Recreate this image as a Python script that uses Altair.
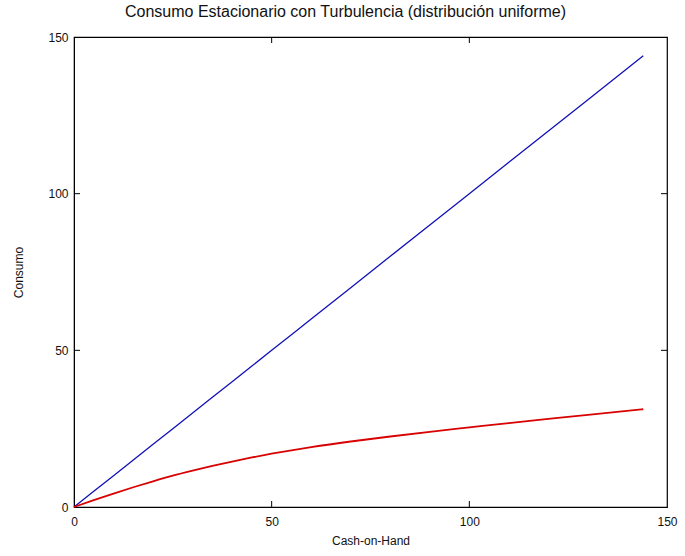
import altair as alt
import pandas as pd

# Cash-on-hand grid and the two consumption rules
cash = [0, 5, 10, 15, 20, 25, 30, 35, 40, 45, 50, 55, 60, 70, 80, 90, 100, 110, 120, 130, 144]
consumo_cierto = [0, 5, 10, 15, 20, 25, 30, 35, 40, 45, 50, 55, 60, 70, 80, 90, 100, 110, 120, 130, 144]
consumo_turb = [0, 2.2, 4.3, 6.3, 8.2, 10.0, 11.6, 13.1, 14.5, 15.8, 17.0, 18.1, 19.1, 20.9,
                22.5, 24.0, 25.4, 26.8, 28.1, 29.4, 31.2]
tick_vals = [0, 50, 100, 150]

W, H = 593, 470
FONT = "Liberation Sans"

df = pd.DataFrame({"cash": cash, "c45": consumo_cierto, "cturb": consumo_turb})
ticks = pd.DataFrame({"t": tick_vals[1:-1]})

xs = alt.Scale(domain=[0, 150], nice=False, zero=False)
ys = alt.Scale(domain=[0, 150], nice=False, zero=False)

x_axis = alt.Axis(values=tick_vals, title="Cash-on-Hand", tickSize=0, labelPadding=9,
                  grid=False, domainColor="black", labelColor="#111", titleColor="#111",
                  labelFont=FONT, titleFont=FONT, labelFontSize=12, titleFontSize=12,
                  titleFontWeight="normal", titlePadding=8, labelFlush=False)
y_axis = alt.Axis(values=tick_vals, title="Consumo", tickSize=0, labelPadding=6,
                  grid=False, domainColor="black", labelColor="#111", titleColor="#111",
                  labelFont=FONT, titleFont=FONT, labelFontSize=12, titleFontSize=12,
                  titleFontWeight="normal", titlePadding=22, labelFlush=False)

base = alt.Chart(df)

blue = base.mark_line(color="#1010b8", strokeWidth=1.3).encode(
    x=alt.X("cash:Q", scale=xs, axis=x_axis),
    y=alt.Y("c45:Q", scale=ys, axis=y_axis),
)
red = base.mark_line(color="#d80000", strokeWidth=1.8, interpolate="monotone").encode(
    x=alt.X("cash:Q", scale=xs),
    y=alt.Y("cturb:Q", scale=ys),
)

tk = alt.Chart(ticks)
tick_len = 6
bottom_ticks = tk.mark_rule(color="black").encode(
    x=alt.X("t:Q", scale=xs), y=alt.value(H), y2=alt.value(H - tick_len))
top_ticks = tk.mark_rule(color="black").encode(
    x=alt.X("t:Q", scale=xs), y=alt.value(0), y2=alt.value(tick_len))
left_ticks = tk.mark_rule(color="black").encode(
    y=alt.Y("t:Q", scale=ys), x=alt.value(0), x2=alt.value(tick_len))
right_ticks = tk.mark_rule(color="black").encode(
    y=alt.Y("t:Q", scale=ys), x=alt.value(W), x2=alt.value(W - tick_len))

chart = alt.layer(blue, red, bottom_ticks, top_ticks, left_ticks, right_ticks).properties(
    width=W, height=H,
    title=alt.Title("Consumo Estacionario con Turbulencia (distribución uniforme)",
                    font=FONT, fontSize=16, fontWeight="normal", color="#111",
                    offset=11, dx=-25),
    autosize=alt.AutoSizeParams(type="none"),
    padding={"left": 74, "top": 37, "right": 18, "bottom": 49},
    background="white",
).configure_view(stroke="black", strokeWidth=1.2)

chart.save("out.html", embed_options={"renderer": "svg", "actions": False})
